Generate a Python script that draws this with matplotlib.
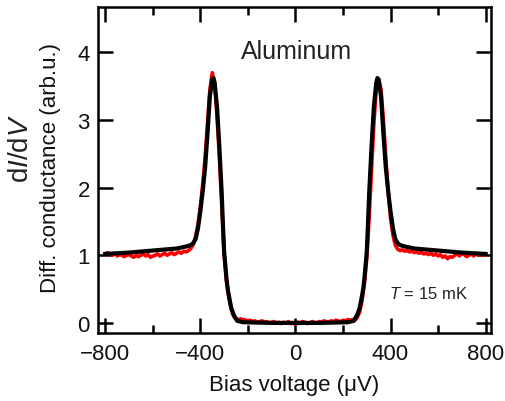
import numpy as np
import matplotlib.pyplot as plt
from matplotlib.ticker import MultipleLocator

plt.rcParams['font.family'] = ['Liberation Sans', 'DejaVu Sans']
plt.rcParams['mathtext.fontset'] = 'custom'
plt.rcParams['mathtext.rm'] = 'Liberation Sans'
plt.rcParams['mathtext.it'] = 'Liberation Sans:italic'

# measured data (red), 10 uV steps from -800 to 800
v_meas = np.arange(-800, 801, 10)
g_meas = [
    1.02, 1.04, 1.01, 1.00, 1.03, 0.99, 1.01, 1.00, 0.98, 1.00,
    1.01, 0.99, 0.97, 1.00, 0.98, 1.00, 1.02, 0.99, 1.01, 0.97,
    0.99, 1.00, 1.02, 0.99, 1.01, 1.03, 1.00, 1.02, 1.04, 1.01,
    1.03, 1.05, 1.03, 1.06, 1.05,
    1.07, 1.10, 1.16, 1.28, 1.46, 1.72, 2.05, 2.45, 2.95, 3.45,
    3.70, 3.55, 3.05, 2.45, 1.75, 1.02, 0.62, 0.38, 0.20, 0.10,
    0.06, 0.05, 0.06,
    0.05, 0.04, 0.03, 0.04, 0.02, 0.03, 0.01, 0.02, 0.03, 0.01,
    0.02, 0.00, 0.01, 0.02, 0.00, 0.01, -0.01, 0.01, 0.00, 0.02,
    -0.01, 0.00, -0.02, 0.01, 0.00, 0.02, 0.01, -0.01, 0.00, 0.02,
    0.01, 0.00, 0.02, 0.01, 0.03, 0.02, 0.01, 0.03, 0.02, 0.04,
    0.03, 0.02, 0.04, 0.03, 0.05,
    0.04, 0.05, 0.04, 0.08, 0.16, 0.32, 0.58, 0.95, 1.55, 2.25,
    2.95, 3.45, 3.60, 3.45, 3.00, 2.45, 1.95, 1.55, 1.30, 1.15,
    1.09, 1.07, 1.08,
    1.06, 1.07, 1.05, 1.06, 1.04, 1.05, 1.03, 1.04, 1.02, 1.03,
    1.01, 1.03, 1.00, 1.02, 0.99, 1.01, 0.97, 0.99, 0.95, 0.98,
    0.97, 1.00, 1.02, 0.99, 1.03, 1.01, 0.98, 1.00, 1.02, 0.99,
    1.03, 1.01, 1.00, 1.02, 1.01,
]

# fit (black), one half; mirrored below
v_fit_half = [0, 100, 220, 245, 260, 270, 280, 285, 290, 295, 300, 305, 310,
              320, 330, 340, 345, 350, 360, 370, 380, 390, 400, 410, 420,
              430, 440, 460, 500, 600, 700, 800]
g_fit_half = [0.00, 0.00, 0.01, 0.03, 0.12, 0.22, 0.40, 0.50, 0.65, 0.85, 1.05,
              1.45, 1.90, 2.60, 3.20, 3.55, 3.62, 3.60, 3.35, 2.80, 2.30, 1.95,
              1.65, 1.40, 1.24, 1.18, 1.15, 1.13, 1.10, 1.07, 1.04, 1.02]
v_fit = [-v for v in v_fit_half[::-1]] + v_fit_half[1:]
g_fit = g_fit_half[::-1] + g_fit_half[1:]

fig = plt.figure(figsize=(5.06, 4.02), dpi=100)
ax = fig.add_axes([0.194, 0.169, 0.776, 0.811])

ax.plot(v_meas, g_meas, color='#ff0000', lw=2.6)
ax.plot(v_fit, g_fit, color='black', lw=3.0)

ax.set_xlim(-830, 822)
ax.set_ylim(-0.15, 4.67)
ax.xaxis.set_major_locator(MultipleLocator(400))
ax.xaxis.set_minor_locator(MultipleLocator(200))
ax.yaxis.set_major_locator(MultipleLocator(1))
ax.set_xticks([-800, -400, 0, 400, 800])
ax.set_xticklabels(['\u2212800', '\u2212400', '0', '400', '800'])

ax.tick_params(which='both', direction='in', top=True, right=True,
               width=1.8, labelsize=16, labelcolor='#111111')
ax.tick_params(axis='x', which='major', length=11, pad=7)
ax.tick_params(axis='x', which='minor', length=6)
ax.tick_params(axis='y', which='major', length=11, pad=6)
for s in ax.spines.values():
    s.set_linewidth(1.8)

ax.set_xlabel('Bias voltage (\u03bcV)', fontsize=16, labelpad=7,
              color='#111111')

fig.text(0.042, 0.630, r'd$I$/d$V$', fontsize=20, rotation=90,
         ha='center', va='center', color='#222222')
fig.text(0.099, 0.583, 'Diff. conductance (arb.u.)', fontsize=16,
         rotation=90, ha='center', va='center', color='#111111')

ax.text(6, 4.02, 'Aluminum', fontsize=18, ha='center', va='center',
        color='#222222')
ax.text(558, 0.44, r'$T$ = 15 mK', fontsize=12, ha='center', va='center',
        color='#222222')

fig.savefig('out.png', dpi=100)
